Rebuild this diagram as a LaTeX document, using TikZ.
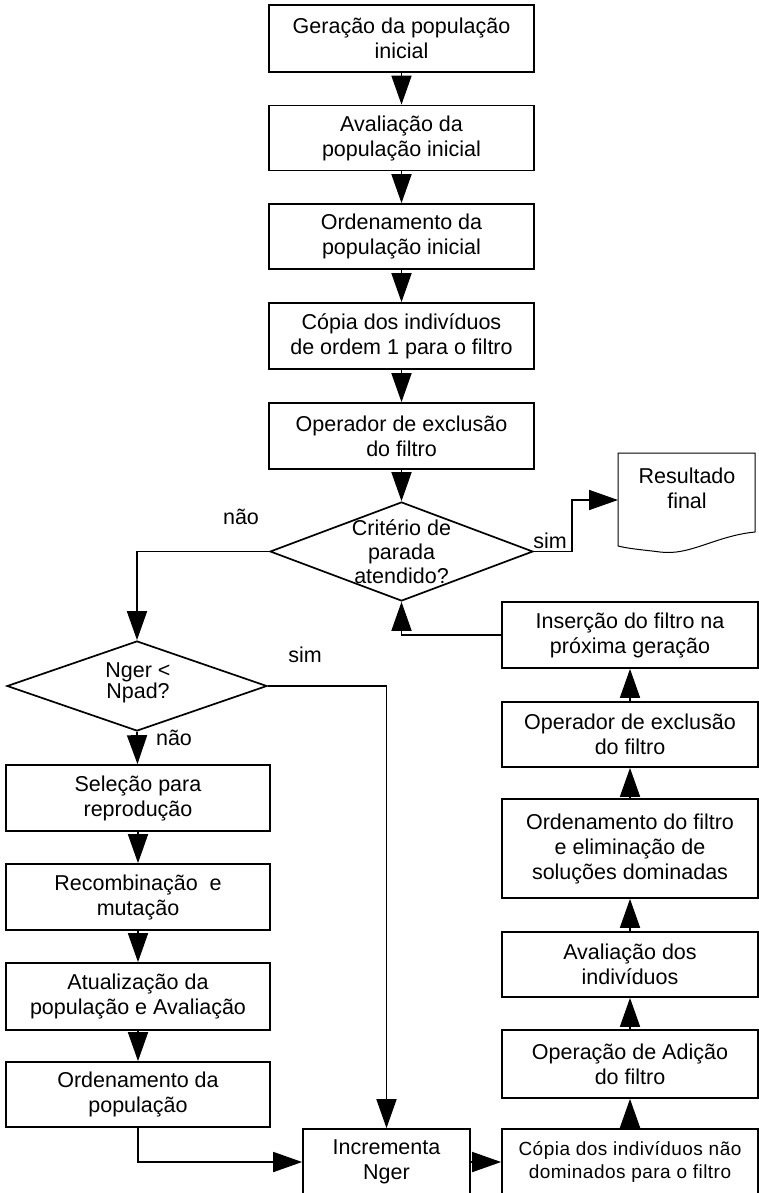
\documentclass[tikz,border=0pt]{standalone}
\usepackage{fontspec}
\setmainfont{Liberation Sans}
\usetikzlibrary{arrows.meta,shapes.geometric}

\begin{document}
\begin{tikzpicture}[x=1pt,y=-1pt,
  txt/.style={font=\fontsize{21.5}{25}\selectfont,align=center,inner sep=0pt},
  box/.style={txt,draw,line width=1.7pt,rectangle,minimum height=65pt},
  topbox/.style={box,minimum width=265pt},
  leftbox/.style={box,minimum width=264pt},
  rightbox/.style={box,minimum width=256pt},
  decision/.style={draw,line width=1.7pt,diamond,inner sep=0pt},
  arr/.style={line width=1.7pt,-{Triangle[length=29pt,width=20pt]}},
]
\useasboundingbox (0,0) rectangle (759,1193);
\clip (0,0) rectangle (759,1193);
\fill[white] (0,0) rectangle (759,1193);

% main column
\node[topbox,minimum height=67pt] (b1) at (401.5,38.5) {Geração da população\\inicial};
\node[topbox] (b2) at (401.5,138) {Avaliação da\\população inicial};
\node[topbox] (b3) at (401.5,236.5) {Ordenamento da\\população inicial};
\node[topbox,minimum height=66pt] (b4) at (401.5,336) {Cópia dos indivíduos\\de ordem 1 para o filtro};
\node[topbox,minimum height=66pt] (b5) at (401.5,436) {Operador de exclusão\\do filtro};

% stopping test
\node[decision,minimum width=263pt,minimum height=99pt] (d1) at (401.5,551.5) {};
\node[txt,font=\fontsize{21.5}{24}\selectfont] (d1t) at (d1.center) {Critério de\\parada\\atendido?};

% final result (document symbol)
\draw[line width=1pt] (618,453) -- (755,453) -- (755,532)
  .. controls (715,536) and (690,556) .. (660,552)
  .. controls (645,550) and (630,549) .. (618,546) -- cycle;
\node[txt] (res) at (687,488) {Resultado\\final};
\coordinate (resin) at (618,500);

% generation test
\node[decision,minimum width=260pt,minimum height=90pt] (d2) at (137,686) {};
\node[txt,font=\fontsize{21.5}{21}\selectfont] (d2t) at (138,682.5) {Nger <\\Npad?};

% left column
\node[leftbox,minimum height=66pt] (l1) at (138,798) {Seleção para\\reprodução};
\node[leftbox,minimum height=66pt] (l2) at (138,897) {Recombinação~ e\\mutação};
\node[leftbox,minimum height=67pt] (l3) at (138,996.5) {Atualização da\\população e Avaliação};
\node[leftbox] (l4) at (138,1094.5) {Ordenamento da\\população};

% bottom row
\node[box,minimum width=167pt,minimum height=66pt] (inc) at (386.5,1162) {Incrementa\\Nger};
\node[box,minimum width=256pt,minimum height=66pt,
      font=\fontsize{19}{23}\addfontfeature{LetterSpace=2.5}\selectfont] (cop) at (630,1162)
      {Cópia dos indivíduos não\\dominados para o filtro};

% right column
\node[rightbox,minimum height=68pt] (r1) at (630,1064) {Operação de Adição\\do filtro};
\node[rightbox] (r2) at (630,964.5) {Avaliação dos\\indivíduos};
\node[rightbox,minimum height=99pt] (r3) at (630,848.5) {Ordenamento do filtro\\e eliminação de\\soluções dominadas};
\node[rightbox] (r4) at (630,734.5) {Operador de exclusão\\do filtro};
\node[rightbox,minimum height=66pt] (r5) at (630,635) {Inserção do filtro na\\próxima geração};

% branch labels
\node[txt] (lnao1) at (241,517) {não};
\node[txt] (lsim1) at (550,541) {sim};
\node[txt] (lsim2) at (305,655) {sim};
\node[txt] (lnao2) at (174,738) {não};

% connectors
\draw[arr] (b1) -- (b2);
\draw[arr] (b2) -- (b3);
\draw[arr] (b3) -- (b4);
\draw[arr] (b4) -- (b5);
\draw[arr] (b5) -- (d1.north);
\draw[arr] (d1.east) -- ++(38,0) |- (resin);
\draw[arr] (d1.west) -| (d2.north);
\draw[arr] (d2.east) -| (inc.north);
\draw[arr] (d2.south) -- (l1);
\draw[arr] (l1) -- (l2);
\draw[arr] (l2) -- (l3);
\draw[arr] (l3) -- (l4);
\draw[arr] (l4.south) |- (inc.west);
\draw[arr] (inc) -- (cop);
\draw[arr] (cop) -- (r1);
\draw[arr] (r1) -- (r2);
\draw[arr] (r2) -- (r3);
\draw[arr] (r3) -- (r4);
\draw[arr] (r4) -- (r5);
\draw[arr] (r5.west) -| (d1.south);
\end{tikzpicture}
\end{document}
